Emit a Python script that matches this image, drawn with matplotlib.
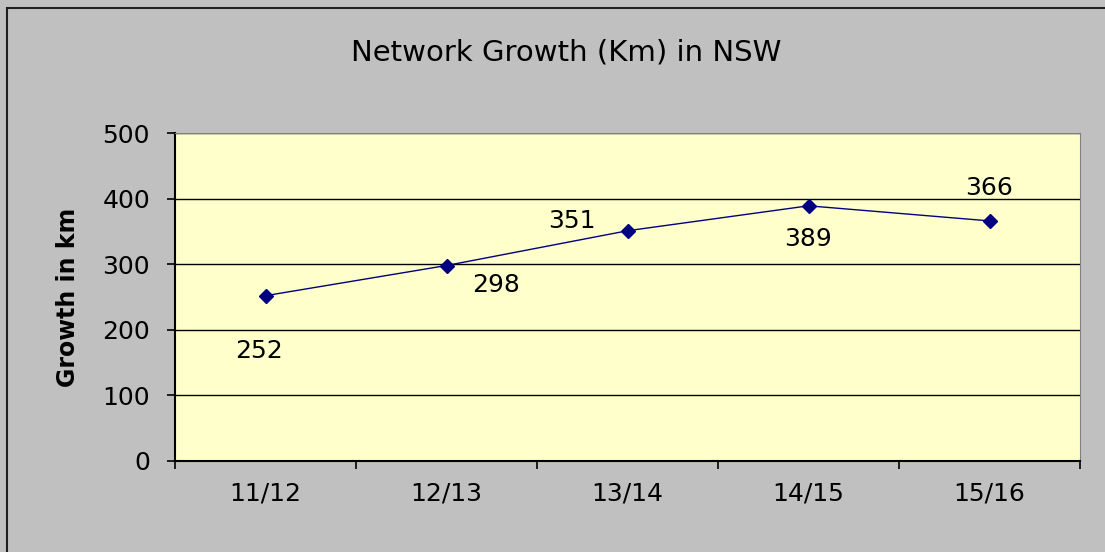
import matplotlib.pyplot as plt
from matplotlib.patches import Rectangle

years = ['11/12', '12/13', '13/14', '14/15', '15/16']
growth = [252, 298, 351, 389, 366]
# where each value label sits relative to its point (points)
label_offsets = [(-5, -40), (36, -14), (-40, 7), (0, -24), (0, 24)]

plt.rcParams['font.family'] = ['DejaVu Sans']

fig = plt.figure(figsize=(11.05, 5.52), dpi=100)
fig.patch.set_facecolor('#C0C0C0')
fig.patches.append(Rectangle((7 / 1105, -0.1), 1.2, 1 - 8 / 552 + 0.1,
                             transform=fig.transFigure, fill=False,
                             edgecolor='#202020', linewidth=1.5))

ax = fig.add_axes([175 / 1105, 91 / 552, 905 / 1105, 328 / 552])
ax.set_facecolor('#FFFFCC')

x = range(len(years))
ax.plot(x, growth, color='#000080', linewidth=1, marker='D', markersize=7)
for i, v in enumerate(growth):
    ax.annotate(str(v), (i, v), xytext=label_offsets[i], textcoords='offset points',
                ha='center', va='center', fontsize=18)

ax.set_xlim(-0.5, len(years) - 0.5)
ax.set_ylim(0, 500)
ax.set_yticks(range(0, 501, 100))
ax.yaxis.grid(True, color='black', linewidth=1)
ax.set_axisbelow(True)

ax.set_xticks([i - 0.5 for i in range(len(years) + 1)])
ax.set_xticklabels([])
ax.set_xticks(list(x), minor=True)
ax.set_xticklabels(years, minor=True)
ax.tick_params(axis='x', which='minor', length=0, labelsize=18, pad=15)
ax.tick_params(axis='x', which='major', length=6, width=1.2)
ax.tick_params(axis='y', length=6, width=1.2, labelsize=18, pad=12)

for side in ['top', 'right']:
    ax.spines[side].set_color('#808080')
for side in ['left', 'bottom']:
    ax.spines[side].set_linewidth(1.5)

ax.set_ylabel('Growth in km', fontsize=17, fontweight='bold', labelpad=16)
fig.text(566 / 1105, 1 - 52 / 552, 'Network Growth (Km) in NSW',
         ha='center', va='center', fontsize=21)

fig.savefig('out.png', dpi=100, facecolor=fig.get_facecolor())
